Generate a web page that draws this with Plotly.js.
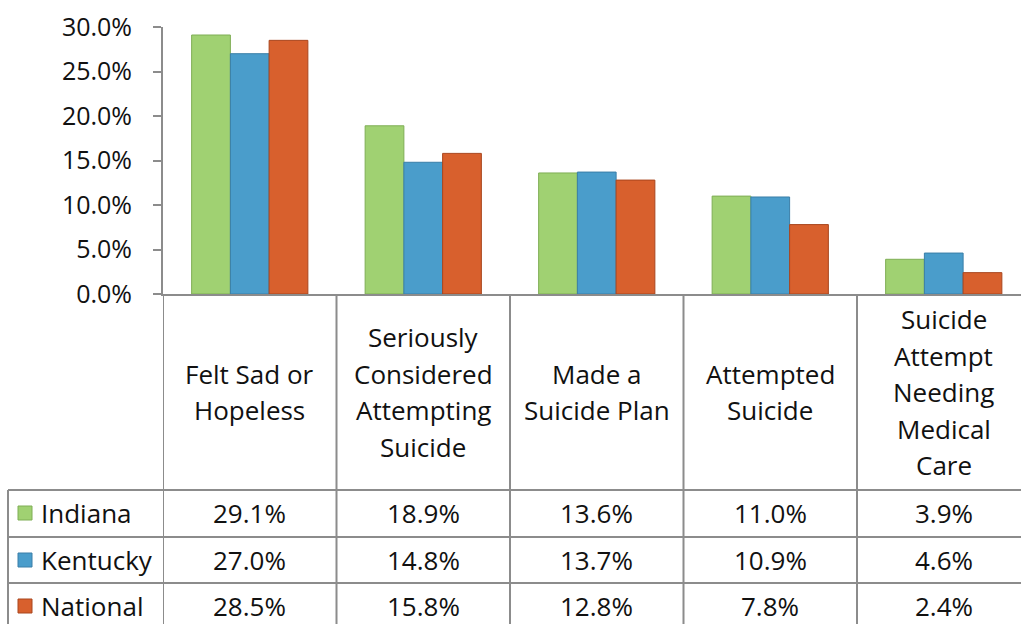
<!DOCTYPE html>
<html>
<head>
<meta charset="utf-8">
<script src="https://cdn.plot.ly/plotly-3.0.1.min.js"></script>
<style>html,body{margin:0;padding:0;background:#fff;}#chart{width:1021px;height:624px;}</style>
</head>
<body>
<div id="chart"></div>
<script>
// ---- data ----
const categories = ['Felt Sad or<br>Hopeless', 'Seriously<br>Considered<br>Attempting<br>Suicide', 'Made a<br>Suicide Plan', 'Attempted<br>Suicide', 'Suicide<br>Attempt<br>Needing<br>Medical<br>Care'];
const seriesNames = ['Indiana', 'Kentucky', 'National'];
const indiana = [29.1, 18.9, 13.6, 11.0, 3.9];
const kentucky = [27.0, 14.8, 13.7, 10.9, 4.6];
const national = [28.5, 15.8, 12.8, 7.8, 2.4];
const tickVals = [0, 5, 10, 15, 20, 25, 30];
const tickText = ['0.0%', '5.0%', '10.0%', '15.0%', '20.0%', '25.0%', '30.0%'];

// ---- style ----
const colors = ['#A0D172', '#4A9DCB', '#D8602D'];
const edges = ['#7FAE55', '#3A7FA8', '#A9461E'];
const gridC = '#8C8C8C';
const FONT = 'Open Sans, Noto Sans, sans-serif';
const TXT = '#111';

const W = 1021, H = 624;
const L = 163, T = 27, B0 = 294;      // plot area pixel edges
const plotW = W - L, plotH = B0 - T;
const catW = 173.5;
const px = x => (x - L) / plotW;
const py = y => (B0 - y) / plotH;

const xs = categories.map((_, i) => i);
const seriesVals = [indiana, kentucky, national];

const traces = seriesVals.map((vals, k) => ({
  type: 'bar', name: seriesNames[k], x: xs, y: vals,
  marker: {color: colors[k], line: {color: edges[k], width: 1}},
  hoverinfo: 'skip'
}));

const shapes = [];
const annotations = [];
const lineStyle = {color: gridC, width: 2};

// table horizontal lines
[490, 537, 583, 630].forEach(y => shapes.push({type: 'line', xref: 'paper', yref: 'paper', x0: px(8), x1: 1.02, y0: py(y), y1: py(y), line: lineStyle}));
// left border of table
shapes.push({type: 'line', xref: 'paper', yref: 'paper', x0: px(8), x1: px(8), y0: py(490), y1: py(640), line: lineStyle});
// category boundaries
for (let i = 0; i <= categories.length; i++) {
  shapes.push({type: 'line', xref: 'x', yref: 'paper', x0: i - 0.5, x1: i - 0.5, y0: 0, y1: py(640), line: lineStyle});
}

// category labels (one annotation per line for Excel-like spacing)
const LH = 36.5, headCenter = 392;
categories.forEach((c, i) => {
  const lines = c.split('<br>');
  lines.forEach((ln, j) => {
    const yc = headCenter + (j - (lines.length - 1) / 2) * LH;
    annotations.push({
      xref: 'x', yref: 'paper', x: i, y: py(yc), text: ln, showarrow: false,
      xanchor: 'center', yanchor: 'middle', align: 'center',
      font: {family: FONT, size: 26, color: TXT}
    });
  });
});

// table rows
const rowCenters = [513, 560, 606];
seriesVals.forEach((vals, k) => {
  const yc = py(rowCenters[k]);
  annotations.push({xref: 'paper', yref: 'paper', x: px(39), y: yc, text: seriesNames[k], showarrow: false,
    xanchor: 'left', yanchor: 'middle', font: {family: FONT, size: 26, color: TXT}});
  shapes.push({type: 'rect', xref: 'paper', yref: 'paper', x0: px(18), x1: px(32), y0: py(rowCenters[k] + 7), y1: py(rowCenters[k] - 7),
    fillcolor: colors[k], line: {color: edges[k], width: 1}});
  vals.forEach((v, i) => annotations.push({
    xref: 'x', yref: 'paper', x: i, y: yc, text: v.toFixed(1) + '%', showarrow: false,
    xanchor: 'center', yanchor: 'middle', font: {family: FONT, size: 26, color: TXT}
  }));
});

const layout = {
  width: W, height: H,
  margin: {l: L, r: 0, t: T, b: H - B0, pad: 0},
  paper_bgcolor: '#fff', plot_bgcolor: '#fff',
  showlegend: false,
  barmode: 'group', bargap: 0.33, bargroupgap: 0,
  xaxis: {range: [-0.5, -0.5 + plotW / catW], showticklabels: false, ticks: '', showgrid: false, zeroline: false,
    showline: true, linecolor: gridC, linewidth: 2, fixedrange: true},
  yaxis: {range: [0, 30], tickvals: tickVals, ticktext: tickText, showgrid: false, zeroline: false,
    showline: true, linecolor: gridC, linewidth: 2, ticks: 'outside', ticklen: 8, tickwidth: 2, tickcolor: gridC,
    ticklabelstandoff: 16, tickfont: {family: FONT, size: 25, color: TXT}, fixedrange: true},
  shapes: shapes,
  annotations: annotations
};

Plotly.newPlot('chart', traces, layout, {displayModeBar: false, staticPlot: true});
</script>
</body>
</html>
